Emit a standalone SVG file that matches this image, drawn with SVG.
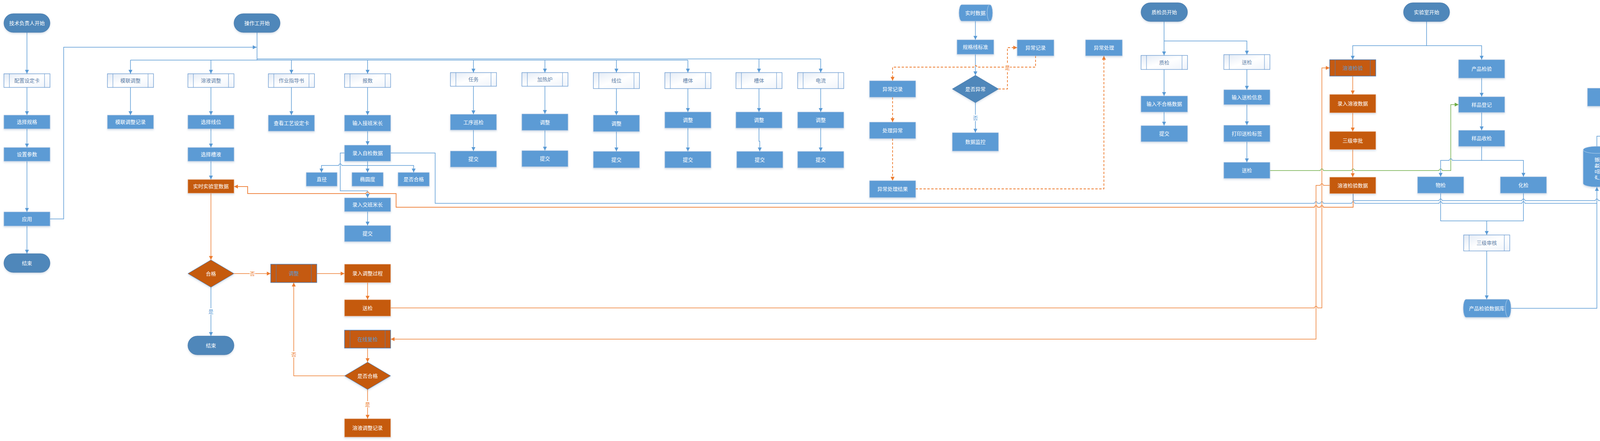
<svg xmlns="http://www.w3.org/2000/svg" width="4877" height="1130" viewBox="0 0 4877 1130">
<defs>
<style>
text{font-family:"Liberation Sans","Noto Sans CJK SC",sans-serif;font-size:13px;text-anchor:middle;dominant-baseline:central}
.p{fill:#5B9BD5;stroke:#A9C1DF;stroke-width:1;filter:url(#sh)}
.t{fill:#4F87BA;stroke:#4677A8;stroke-width:1;filter:url(#sh)}
.s{fill:url(#sg);stroke:#5B8FCB;stroke-width:1.2}
.sl{stroke:#5B8FCB;stroke-width:1;fill:none}
.op{fill:#C55A11;stroke:#E8B08A;stroke-width:1;filter:url(#sh)}
.os{fill:#C55A11;stroke:#4A7EBB;stroke-width:1.4}
.osl{stroke:#4A7EBB;stroke-width:1;fill:none}
.w{fill:#FFFFFF}
.st{fill:#5E7FA8}
.ost{fill:#5B9BD5}
.rim{fill:none;stroke:#BDD7EE;stroke-width:1}
.cb{fill:none;stroke:#5B9BD5;stroke-width:1.5}
.co{fill:none;stroke:#ED7D31;stroke-width:1.5}
.co2{fill:none;stroke:#F08A48;stroke-width:2}
.cg{fill:none;stroke:#70AD47;stroke-width:1.5}
.cd{fill:none;stroke:#ED7D31;stroke-width:1.8;stroke-dasharray:6 4}
.lb{fill:#5B9BD5}
.lo{fill:#ED7D31}
.bg{fill:#FFFFFF}
</style>
<linearGradient id="sg" x1="0" y1="0" x2="1" y2="1">
<stop offset="0" stop-color="#E2EAF5"/>
<stop offset="0.5" stop-color="#FFFFFF"/>
<stop offset="1" stop-color="#EEF3FA"/>
</linearGradient>
<filter id="sh" x="-10%" y="-10%" width="120%" height="145%">
<feDropShadow dx="0" dy="3" stdDeviation="2" flood-color="#5B7FA8" flood-opacity="0.25"/>
</filter>
<marker id="ab" markerUnits="userSpaceOnUse" markerWidth="10" markerHeight="10" refX="10" refY="5" orient="auto"><path d="M0,0 L10,5 L0,10 Z" fill="#5B9BD5"/></marker>
<marker id="ao" markerUnits="userSpaceOnUse" markerWidth="10" markerHeight="10" refX="10" refY="5" orient="auto"><path d="M0,0 L10,5 L0,10 Z" fill="#ED7D31"/></marker>
<marker id="ag" markerUnits="userSpaceOnUse" markerWidth="10" markerHeight="10" refX="10" refY="5" orient="auto"><path d="M0,0 L10,5 L0,10 Z" fill="#70AD47"/></marker>
</defs>
<rect x="0" y="0" width="4877" height="1130" fill="#FFFFFF"/>

<g id="connectors">
<!-- technician -->
<path class="cb" marker-end="url(#ab)" d="M69,83 V189"/>
<path class="cb" marker-end="url(#ab)" d="M69,224 V295"/>
<path class="cb" marker-end="url(#ab)" d="M69,330 V378"/>
<path class="cb" marker-end="url(#ab)" d="M69,413 V543"/>
<path class="cb" marker-end="url(#ab)" d="M69,579 V650"/>
<path class="cb" marker-end="url(#ab)" d="M128,561 H163 V121 H657"/>
<!-- operator bus -->
<path class="cb" d="M658,83 V154"/>
<path class="cb" d="M334,154 H1761"/>
<path class="cb" d="M658,151 H2101"/>
<path class="cb" marker-end="url(#ab)" d="M334,154 V189"/>
<path class="cb" marker-end="url(#ab)" d="M540,154 V189"/>
<path class="cb" marker-end="url(#ab)" d="M746,154 V189"/>
<path class="cb" marker-end="url(#ab)" d="M941,154 V189"/>
<path class="cb" marker-end="url(#ab)" d="M1212,154 V186"/>
<path class="cb" marker-end="url(#ab)" d="M1395,154 V186"/>
<path class="cb" marker-end="url(#ab)" d="M1578,154 V186"/>
<path class="cb" marker-end="url(#ab)" d="M1761,154 V186"/>
<path class="cb" marker-end="url(#ab)" d="M1943,151 V186"/>
<path class="cb" marker-end="url(#ab)" d="M2101,151 V186"/>
<path class="cb" marker-end="url(#ab)" d="M334,224 V295"/>
<path class="cb" marker-end="url(#ab)" d="M540,224 V295"/>
<path class="cb" marker-end="url(#ab)" d="M540,330 V378"/>
<path class="cb" marker-end="url(#ab)" d="M540,413 V460"/>
<path class="cb" marker-end="url(#ab)" d="M746,224 V295"/>
<path class="cb" marker-end="url(#ab)" d="M941,224 V295"/>
<path class="cb" marker-end="url(#ab)" d="M941,336 V372"/>
<path class="cb" marker-end="url(#ab)" d="M941,413 V442"/>
<path class="cb" marker-end="url(#ab)" d="M941,424 H875 A4,4 0 0 0 867,424 H823 V442"/>
<path class="cb" marker-end="url(#ab)" d="M941,424 H1059 V442"/>
<path class="cb" marker-end="url(#ab)" d="M882,392 H871 V489 H941 V507"/>
<path class="cb" marker-end="url(#ab)" d="M941,542 V578"/>
<path class="cb" d="M1000,392 H1114 V521 H3365 A4,4 0 0 1 3373,521 H3380 A4,4 0 0 1 3388,521 H3460 A4,4 0 0 1 3468,521 H3684 A4,4 0 0 1 3692,521 H3896 A4,4 0 0 1 3904,521 H4088"/>
<path class="cb" marker-end="url(#ab)" d="M1212,221 V293"/>
<path class="cb" marker-end="url(#ab)" d="M1212,333 V387"/>
<path class="cb" marker-end="url(#ab)" d="M1395,221 V292"/>
<path class="cb" marker-end="url(#ab)" d="M1395,334 V386"/>
<path class="cb" marker-end="url(#ab)" d="M1578,227 V295"/>
<path class="cb" marker-end="url(#ab)" d="M1578,337 V388"/>
<path class="cb" marker-end="url(#ab)" d="M1761,227 V287"/>
<path class="cb" marker-end="url(#ab)" d="M1761,328 V388"/>
<path class="cb" marker-end="url(#ab)" d="M1943,227 V287"/>
<path class="cb" marker-end="url(#ab)" d="M1943,328 V362 H1945 V388"/>
<path class="cb" marker-end="url(#ab)" d="M2101,227 V287"/>
<path class="cb" marker-end="url(#ab)" d="M2101,328 V388"/>
<path class="cb" marker-end="url(#ab)" d="M540,736 V861"/>
<!-- orange operator -->
<path class="co" marker-end="url(#ao)" d="M540,495 V666"/>
<path class="co" marker-end="url(#ao)" d="M599,701 H693"/>
<path class="co" marker-end="url(#ao)" d="M811,701 H882"/>
<path class="co" marker-end="url(#ao)" d="M941,724 V768"/>
<path class="co" marker-end="url(#ao)" d="M1000,789 H3365 A4,4 0 0 1 3373,789 H3384 V174 H3404"/>
<path class="co" marker-end="url(#ao)" d="M3404,475 H3388 A4,4 0 0 0 3380,475 H3369 V869 H1000"/>
<path class="co" marker-end="url(#ao)" d="M941,892 V928"/>
<path class="co" marker-end="url(#ao)" d="M941,998 V1073"/>
<path class="co" marker-end="url(#ao)" d="M882,963 H752 V724"/>
<path class="co2" marker-end="url(#ao)" d="M3464,496 V531 H3388 A4,4 0 0 0 3380,531 H3373 A4,4 0 0 0 3365,531 H1014 V496 H945 A4,4 0 0 0 937,496 H634 V478 H599"/>
<!-- monitoring -->
<path class="cb" marker-end="url(#ab)" d="M2497,54 V102"/>
<path class="cb" marker-end="url(#ab)" d="M2497,139 V193"/>
<path class="cb" marker-end="url(#ab)" d="M2497,263 V340"/>
<path class="cd" marker-end="url(#ao)" d="M2556,228 H2579 V122 H2604"/>
<path class="cd" marker-end="url(#ao)" d="M2651,143 V172 H2501 A4,4 0 0 0 2493,172 H2285 V207"/>
<path class="cd" marker-end="url(#ao)" d="M2285,249 V313"/>
<path class="cd" marker-end="url(#ao)" d="M2285,355 V463"/>
<path class="cd" marker-end="url(#ao)" d="M2344,484 H2826 V143"/>
<!-- QC -->
<path class="cb" marker-end="url(#ab)" d="M2980,55 V142"/>
<path class="cb" marker-end="url(#ab)" d="M2980,105 H3192 V140"/>
<path class="cb" marker-end="url(#ab)" d="M2980,178 V246"/>
<path class="cb" marker-end="url(#ab)" d="M2980,287 V322"/>
<path class="cb" marker-end="url(#ab)" d="M3192,178 V230"/>
<path class="cb" marker-end="url(#ab)" d="M3192,268 V321"/>
<path class="cb" marker-end="url(#ab)" d="M3192,363 V416"/>
<path class="cg" marker-end="url(#ag)" d="M3251,437 H3380 A4,4 0 0 1 3388,437 H3460 A4,4 0 0 1 3468,437 H3684 A4,4 0 0 1 3692,437 H3714 V268 H3734"/>
<!-- lab -->
<path class="cb" marker-end="url(#ab)" d="M3652,55 V117 H3463 V153"/>
<path class="cb" marker-end="url(#ab)" d="M3652,117 H3793 V153"/>
<path class="co" marker-end="url(#ao)" d="M3463,195 V242"/>
<path class="co" marker-end="url(#ao)" d="M3463,289 V337"/>
<path class="co" marker-end="url(#ao)" d="M3463,383 V454"/>
<path class="cb" marker-end="url(#ab)" d="M3793,200 V248"/>
<path class="cb" marker-end="url(#ab)" d="M3793,288 V334"/>
<path class="cb" marker-end="url(#ab)" d="M3793,375 V411 H3718 A4,4 0 0 0 3710,411 H3688 V453"/>
<path class="cb" marker-end="url(#ab)" d="M3793,411 H3900 V453"/>
<path class="cb" d="M3688,495 V566 H3900 V495"/>
<path class="cb" marker-end="url(#ab)" d="M3806,566 V602"/>
<path class="cb" marker-end="url(#ab)" d="M3806,643 V767"/>
<path class="cb" marker-end="url(#ab)" d="M3868,790 H4088 V479"/>
<path class="cb" marker-end="url(#ab)" d="M3464,496 V514 H3684 A4,4 0 0 1 3692,514 H3896 A4,4 0 0 1 3904,514 H4084 A4,4 0 0 1 4092,514 H4383 V479"/>
<!-- analysis -->
<path class="cb" marker-end="url(#ab)" d="M4088,375 V349 H4123 V272"/>
<path class="cb" marker-end="url(#ab)" d="M4383,375 V349 H4359 V272"/>
<path class="cb" marker-end="url(#ab)" d="M4489,51 V102 H4242 V137"/>
<path class="cb" marker-end="url(#ab)" d="M4489,102 H4701 V137"/>
<path class="cb" marker-end="url(#ab)" d="M4242,178 V190 H4123 V226"/>
<path class="cb" marker-end="url(#ab)" d="M4242,190 H4359 V226"/>
<path class="cb" marker-end="url(#ab)" d="M4701,179 V215 H4584 V250"/>
<path class="cb" marker-end="url(#ab)" d="M4701,215 H4808 V250"/>
<!-- labels -->
<rect class="bg" x="639" y="693" width="14" height="16"/><text class="lo" x="646" y="701">否</text>
<rect class="bg" x="533" y="790" width="14" height="16"/><text class="lb" x="540" y="798">是</text>
<rect class="bg" x="745" y="900" width="14" height="16"/><text class="lo" x="752" y="908">否</text>
<rect class="bg" x="934" y="1028" width="14" height="16"/><text class="lo" x="941" y="1036">是</text>
<rect class="bg" x="2490" y="294" width="14" height="16"/><text class="lb" x="2497" y="302">否</text>
<rect class="bg" x="2572" y="165" width="14" height="16"/><text class="lo" x="2579" y="173">是</text>
</g>

<g id="tech_start"><rect class="t" x="10" y="35" width="118" height="48" rx="24"/><text class="w" x="69" y="59">技术负责人开始</text></g>
<g id="cfg_card"><rect class="s" x="10" y="189" width="118" height="35"/><path class="sl" d="M24,189 v35 M114,189 v35"/><text class="st" x="69" y="206.5">配置设定卡</text></g>
<g id="sel_spec"><rect class="p" x="10" y="295" width="118" height="35"/><text class="w" x="69" y="312.5">选择规格</text></g>
<g id="set_param"><rect class="p" x="10" y="378" width="118" height="35"/><text class="w" x="69" y="395.5">设置参数</text></g>
<g id="apply"><rect class="p" x="10" y="543" width="118" height="36"/><text class="w" x="69" y="561">应用</text></g>
<g id="end1"><rect class="t" x="10" y="650" width="118" height="48" rx="24"/><text class="w" x="69" y="674">结束</text></g>

<g id="op_start"><rect class="t" x="599" y="35" width="118" height="48" rx="24"/><text class="w" x="658" y="59">操作工开始</text></g>
<g id="mold"><rect class="s" x="275" y="189" width="118" height="35"/><path class="sl" d="M289,189 v35 M379,189 v35"/><text class="st" x="334" y="206.5">模联调整</text></g>
<g id="mold_rec"><rect class="p" x="275" y="295" width="118" height="35"/><text class="w" x="334" y="312.5">模联调整记录</text></g>
<g id="sol_adj"><rect class="s" x="481" y="189" width="118" height="35"/><path class="sl" d="M495,189 v35 M585,189 v35"/><text class="st" x="540" y="206.5">溶液调整</text></g>
<g id="sel_line"><rect class="p" x="481" y="295" width="118" height="35"/><text class="w" x="540" y="312.5">选择线位</text></g>
<g id="sel_bath"><rect class="p" x="481" y="378" width="118" height="35"/><text class="w" x="540" y="395.5">选择槽液</text></g>
<g id="lab_rt"><rect class="op" x="481" y="460" width="118" height="35"/><text class="w" x="540" y="477.5">实时实验室数据</text></g>
<g id="ok"><polygon class="op" points="540,666 599,701 540,736 481,701" style="stroke:#4A7EBB"/><text class="w" x="540" y="701">合格</text></g>
<g id="end2"><rect class="t" x="481" y="861" width="118" height="48" rx="24"/><text class="w" x="540" y="885">结束</text></g>
<g id="adj"><rect class="os" x="693" y="677" width="118" height="47"/><path class="osl" d="M707,677 v47 M797,677 v47"/><text class="ost" x="752" y="700.5">调整</text></g>
<g id="rec_adj"><rect class="op" x="882" y="677" width="118" height="47"/><text class="w" x="941" y="700.5">录入调整过程</text></g>
<g id="send1"><rect class="op" x="882" y="768" width="118" height="42"/><text class="w" x="941" y="789">送检</text></g>
<g id="recheck"><rect class="os" x="882" y="846" width="118" height="46"/><path class="osl" d="M896,846 v46 M986,846 v46"/><text class="ost" x="941" y="869">在线复检</text></g>
<g id="pass"><polygon class="op" points="941,928 1000,963 941,998 882,963" style="stroke:#4A7EBB"/><text class="w" x="941" y="963">是否合格</text></g>
<g id="sol_rec"><rect class="op" x="882" y="1073" width="118" height="47"/><text class="w" x="941" y="1096.5">溶液调整记录</text></g>
<g id="guide"><rect class="s" x="687" y="189" width="118" height="35"/><path class="sl" d="M701,189 v35 M791,189 v35"/><text class="st" x="746" y="206.5">作业指导书</text></g>
<g id="view_card"><rect class="p" x="687" y="295" width="118" height="41"/><text class="w" x="746" y="315.5">查看工艺设定卡</text></g>
<g id="report"><rect class="s" x="882" y="189" width="118" height="35"/><path class="sl" d="M896,189 v35 M986,189 v35"/><text class="st" x="941" y="206.5">报数</text></g>
<g id="in_len"><rect class="p" x="882" y="295" width="118" height="41"/><text class="w" x="941" y="315.5">输入接班米长</text></g>
<g id="self_chk"><rect class="p" x="882" y="372" width="118" height="41"/><text class="w" x="941" y="392.5">录入自检数据</text></g>
<g id="dia"><rect class="p" x="784" y="442" width="79" height="35"/><text class="w" x="823.5" y="459.5">直径</text></g>
<g id="oval"><rect class="p" x="901" y="442" width="80" height="35"/><text class="w" x="941" y="459.5">椭圆度</text></g>
<g id="okq"><rect class="p" x="1019" y="442" width="80" height="35"/><text class="w" x="1059" y="459.5">是否合格</text></g>
<g id="out_len"><rect class="p" x="882" y="507" width="118" height="35"/><text class="w" x="941" y="524.5">录入交班米长</text></g>
<g id="submit0"><rect class="p" x="882" y="578" width="118" height="41"/><text class="w" x="941" y="598.5">提交</text></g>
<g id="task"><rect class="s" x="1153" y="186" width="118" height="35"/><path class="sl" d="M1167,186 v35 M1257,186 v35"/><text class="st" x="1212" y="203.5">任务</text></g>
<g id="patrol"><rect class="p" x="1153" y="293" width="118" height="40"/><text class="w" x="1212" y="313">工序巡检</text></g>
<g id="sub1"><rect class="p" x="1153" y="387" width="118" height="41"/><text class="w" x="1212" y="407.5">提交</text></g>
<g id="furnace"><rect class="s" x="1336" y="186" width="118" height="35"/><path class="sl" d="M1350,186 v35 M1440,186 v35"/><text class="st" x="1395" y="203.5">加热炉</text></g>
<g id="adj1"><rect class="p" x="1336" y="292" width="118" height="42"/><text class="w" x="1395" y="313">调整</text></g>
<g id="sub2"><rect class="p" x="1336" y="386" width="118" height="41"/><text class="w" x="1395" y="406.5">提交</text></g>
<g id="wire"><rect class="s" x="1519" y="186" width="118" height="41"/><path class="sl" d="M1533,186 v41 M1623,186 v41"/><text class="st" x="1578" y="206.5">线位</text></g>
<g id="adj2"><rect class="p" x="1519" y="295" width="118" height="42"/><text class="w" x="1578" y="316">调整</text></g>
<g id="sub3"><rect class="p" x="1519" y="388" width="118" height="42"/><text class="w" x="1578" y="409">提交</text></g>
<g id="tank1"><rect class="s" x="1702" y="186" width="118" height="41"/><path class="sl" d="M1716,186 v41 M1806,186 v41"/><text class="st" x="1761" y="206.5">槽体</text></g>
<g id="adj3"><rect class="p" x="1702" y="287" width="118" height="41"/><text class="w" x="1761" y="307.5">调整</text></g>
<g id="sub4"><rect class="p" x="1702" y="388" width="118" height="42"/><text class="w" x="1761" y="409">提交</text></g>
<g id="tank2"><rect class="s" x="1884" y="186" width="118" height="41"/><path class="sl" d="M1898,186 v41 M1988,186 v41"/><text class="st" x="1943" y="206.5">槽体</text></g>
<g id="adj4"><rect class="p" x="1884" y="287" width="118" height="41"/><text class="w" x="1943" y="307.5">调整</text></g>
<g id="sub5"><rect class="p" x="1886" y="388" width="118" height="42"/><text class="w" x="1945" y="409">提交</text></g>
<g id="current"><rect class="s" x="2042" y="186" width="118" height="41"/><path class="sl" d="M2056,186 v41 M2146,186 v41"/><text class="st" x="2101" y="206.5">电流</text></g>
<g id="adj5"><rect class="p" x="2042" y="287" width="118" height="41"/><text class="w" x="2101" y="307.5">调整</text></g>
<g id="sub6"><rect class="p" x="2042" y="388" width="118" height="42"/><text class="w" x="2101" y="409">提交</text></g>

<g id="rtdata"><path class="p" d="M2462,12 H2534 A7,21 0 0 1 2534,54 H2462 A7,21 0 0 1 2462,12 Z"/><path class="rim" d="M2534,12 A7,21 0 0 0 2534,54"/><text class="w" x="2497" y="33">实时数据</text></g>
<g id="spec_std"><rect class="p" x="2450" y="102" width="94" height="37"/><text class="w" x="2497" y="120.5">规格线标准</text></g>
<g id="abn_q"><polygon class="t" points="2497,193 2556,228 2497,263 2438,228"/><text class="w" x="2497" y="228">是否异常</text></g>
<g id="monitor"><rect class="p" x="2438" y="340" width="118" height="47"/><text class="w" x="2497" y="363.5">数据监控</text></g>
<g id="abn_rec_r"><rect class="p" x="2604" y="102" width="94" height="41"/><text class="w" x="2651" y="122.5">异常记录</text></g>
<g id="abn_rec_l"><rect class="p" x="2226" y="207" width="118" height="42"/><text class="w" x="2285" y="228">异常记录</text></g>
<g id="handle"><rect class="p" x="2226" y="313" width="118" height="42"/><text class="w" x="2285" y="334">处理异常</text></g>
<g id="handle_res"><rect class="p" x="2226" y="463" width="118" height="43"/><text class="w" x="2285" y="484.5">异常处理结果</text></g>
<g id="abn_proc"><rect class="p" x="2779" y="102" width="94" height="41"/><text class="w" x="2826" y="122.5">异常处理</text></g>

<g id="qc_start"><rect class="t" x="2921" y="7" width="119" height="48" rx="24"/><text class="w" x="2980.5" y="31">质检员开始</text></g>
<g id="qc"><rect class="s" x="2921" y="142" width="119" height="36"/><path class="sl" d="M2935,142 v36 M3026,142 v36"/><text class="st" x="2980.5" y="160">质检</text></g>
<g id="in_bad"><rect class="p" x="2921" y="246" width="119" height="41"/><text class="w" x="2980.5" y="266.5">输入不合格数据</text></g>
<g id="qc_sub"><rect class="p" x="2921" y="322" width="119" height="41"/><text class="w" x="2980.5" y="342.5">提交</text></g>
<g id="send_sub"><rect class="s" x="3133" y="140" width="118" height="38"/><path class="sl" d="M3147,140 v38 M3237,140 v38"/><text class="st" x="3192" y="159">送检</text></g>
<g id="in_send"><rect class="p" x="3133" y="230" width="118" height="38"/><text class="w" x="3192" y="249">输入送检信息</text></g>
<g id="print"><rect class="p" x="3133" y="321" width="118" height="42"/><text class="w" x="3192" y="342">打印送检标签</text></g>
<g id="send2"><rect class="p" x="3133" y="416" width="118" height="41"/><text class="w" x="3192" y="436.5">送检</text></g>

<g id="lab_start"><rect class="t" x="3593" y="7" width="118" height="48" rx="24"/><text class="w" x="3652" y="31">实验室开始</text></g>
<g id="sol_chk"><rect class="os" x="3404" y="153" width="118" height="42"/><path class="osl" d="M3418,153 v42 M3508,153 v42"/><text class="ost" x="3463" y="174">溶液检验</text></g>
<g id="in_sol"><rect class="op" x="3404" y="242" width="118" height="47"/><text class="w" x="3463" y="265.5">录入溶液数据</text></g>
<g id="approve"><rect class="op" x="3404" y="337" width="118" height="46"/><text class="w" x="3463" y="360">三级审批</text></g>
<g id="sol_data"><rect class="op" x="3404" y="454" width="118" height="42"/><text class="w" x="3463" y="475">溶液检验数据</text></g>
<g id="prod_chk"><rect class="p" x="3734" y="153" width="118" height="47"/><text class="w" x="3793" y="176.5">产品检验</text></g>
<g id="sample_reg"><rect class="p" x="3734" y="248" width="118" height="40"/><text class="w" x="3793" y="268">样品登记</text></g>
<g id="sample_rcv"><rect class="p" x="3734" y="334" width="118" height="41"/><text class="w" x="3793" y="354.5">样品收检</text></g>
<g id="phys"><rect class="p" x="3629" y="453" width="118" height="42"/><text class="w" x="3688" y="474">物检</text></g>
<g id="chem"><rect class="p" x="3841" y="453" width="118" height="42"/><text class="w" x="3900" y="474">化检</text></g>
<g id="audit"><rect class="s" x="3747" y="602" width="118" height="41"/><path class="sl" d="M3761,602 v41 M3851,602 v41"/><text class="st" x="3806" y="622.5">三级审核</text></g>
<g id="prod_db"><path class="p" d="M3753,767 H3861 A7,23 0 0 1 3861,813 H3753 A7,23 0 0 1 3753,767 Z"/><path class="rim" d="M3861,767 A7,23 0 0 0 3861,813"/><text class="w" x="3806" y="790">产品检验数据库</text></g>

<g id="ana_start"><rect class="t" x="4430" y="3" width="118" height="48" rx="24"/><text class="w" x="4489" y="27">分析开始</text></g>
<g id="cpk"><rect class="s" x="4183" y="137" width="118" height="41"/><path class="sl" d="M4197,137 v41 M4287,137 v41"/><text class="st" x="4242" y="157.5">CPK分析</text></g>
<g id="stat_report"><rect class="s" x="4642" y="137" width="118" height="42"/><path class="sl" d="M4656,137 v42 M4746,137 v42"/><text class="st" x="4701" y="158">统计报表</text></g>
<g id="prod_cap"><rect class="p" x="4064" y="226" width="118" height="46"/><text class="w" x="4123" y="249">产品能力</text></g>
<g id="proc_cap"><rect class="p" x="4300" y="226" width="118" height="46"/><text class="w" x="4359" y="249">过程能力</text></g>
<g id="prod_data"><path class="p" d="M4053,384 A35,9 0 0 1 4123,384 V470 A35,9 0 0 1 4053,470 Z"/><path class="rim" d="M4053,384 A35,9 0 0 0 4123,384"/><text class="w" x="4088" y="431" transform="rotate(-90 4088 431)" letter-spacing="2">产品数据</text></g>
<g id="proc_data"><path class="p" d="M4348,384 A35,9 0 0 1 4418,384 V470 A35,9 0 0 1 4348,470 Z"/><path class="rim" d="M4348,384 A35,9 0 0 0 4418,384"/><text class="w" x="4383" y="431" transform="rotate(-90 4383 431)" letter-spacing="2">过程数据</text></g>
<g id="search"><rect class="p" x="4525" y="250" width="118" height="47"/><text class="w" x="4584" y="273.5">多条件检索</text></g>
<g id="export"><rect class="p" x="4749" y="250" width="118" height="47"/><text class="w" x="4808" y="273.5">条件导出</text></g>
</svg>
